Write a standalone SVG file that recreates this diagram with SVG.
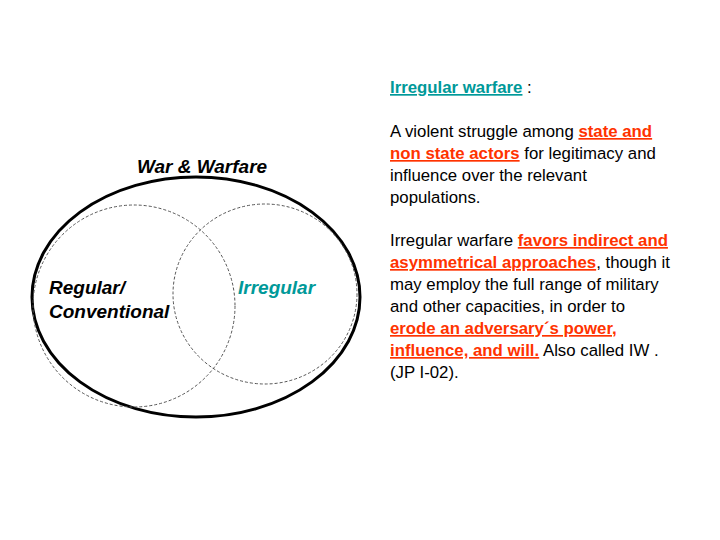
<svg xmlns="http://www.w3.org/2000/svg" width="720" height="540" viewBox="0 0 720 540">
<style>
text{font-family:"Liberation Sans",Arial,sans-serif;font-size:16.8px;fill:#000}
.lbl{font-size:19px;font-weight:bold;font-style:italic}
.red{fill:#ff3300;font-weight:bold;text-decoration:underline}
.teal{fill:#009999;font-weight:bold;text-decoration:underline}
.dash{fill:none;stroke:#555;stroke-width:1;stroke-dasharray:3,2}
</style>
<rect width="720" height="540" fill="#fff"/>
<g id="warfare"><ellipse cx="196" cy="297" rx="164" ry="120" fill="none" stroke="#000" stroke-width="3"/>
<text class="lbl" x="202" y="173" text-anchor="middle">War &amp; Warfare</text></g>
<g id="regular"><circle cx="134" cy="306" r="101" class="dash"/>
<text class="lbl" x="49" y="294">Regular/</text><text class="lbl" x="49" y="318">Conventional</text></g>
<g id="irregular"><ellipse cx="265" cy="294" rx="92" ry="90" class="dash"/>
<text class="lbl" x="238" y="294" style="fill:#009999">Irregular</text></g>
<g id="definition">
<text x="390" y="93"><tspan class="teal">Irregular warfare</tspan> :</text>
<text x="390" y="137">A violent struggle among <tspan class="red">state and</tspan></text>
<text x="390" y="159"><tspan class="red">non state actors</tspan> for legitimacy and</text>
<text x="390" y="181">influence over the relevant</text>
<text x="390" y="203">populations.</text>
<text x="390" y="246">Irregular warfare <tspan class="red">favors indirect and</tspan></text>
<text x="390" y="268"><tspan class="red">asymmetrical approaches</tspan>, though it</text>
<text x="390" y="290">may employ the full range of military</text>
<text x="390" y="312">and other capacities, in order to</text>
<text x="390" y="334"><tspan class="red">erode an adversary´s power,</tspan></text>
<text x="390" y="356"><tspan class="red">influence, and will.</tspan> Also called IW .</text>
<text x="390" y="378">(JP I-02).</text>
</g>
<g id="connectors"/>
</svg>
